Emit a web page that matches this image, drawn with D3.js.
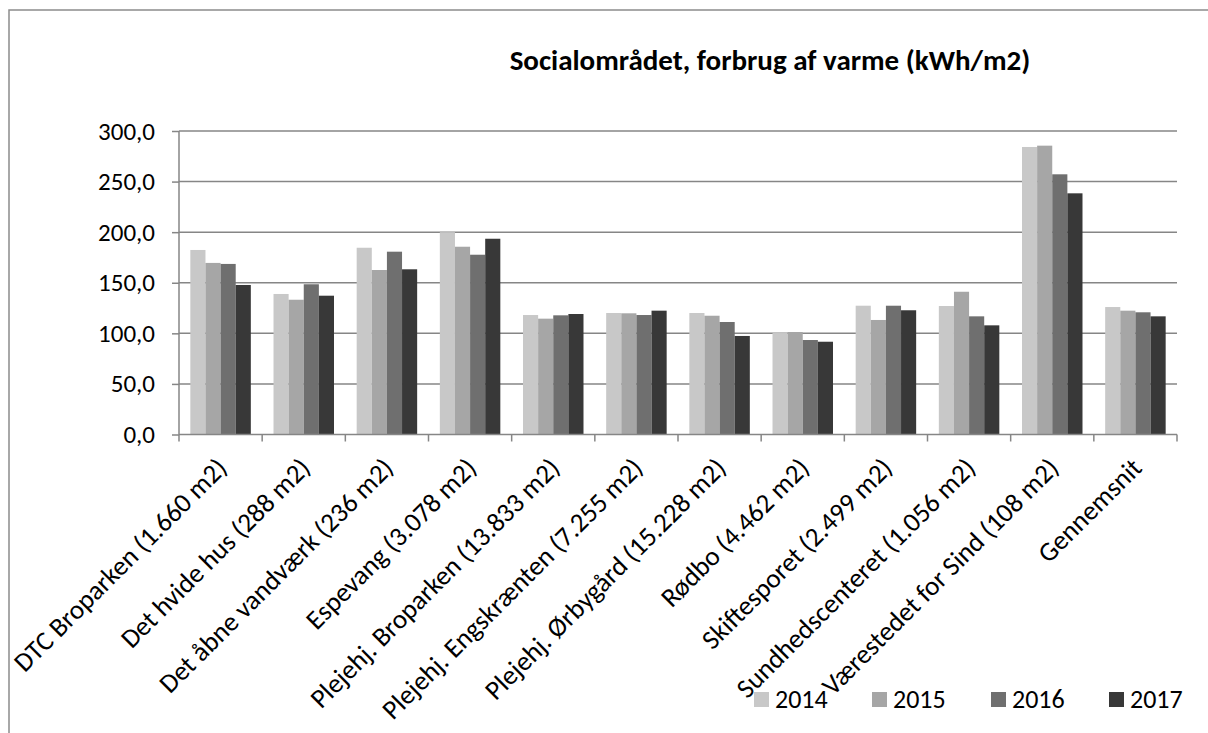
<!DOCTYPE html>
<html><head><meta charset="utf-8">
<script src="https://cdn.jsdelivr.net/npm/d3@7"></script>
<style>
html,body{margin:0;padding:0;background:#fff;}
svg{display:block;}
text{font-family:Carlito,Lato,"Liberation Sans",sans-serif;fill:#000;}
</style></head>
<body>
<svg id="chart" width="1208" height="733"></svg>
<script>
const categories = [
  "DTC Broparken (1.660 m2)",
  "Det hvide hus (288 m2)",
  "Det åbne vandværk (236 m2)",
  "Espevang (3.078 m2)",
  "Plejehj. Broparken (13.833 m2)",
  "Plejehj. Engskrænten (7.255 m2)",
  "Plejehj. Ørbygård (15.228 m2)",
  "Rødbo (4.462 m2)",
  "Skiftesporet (2.499 m2)",
  "Sundhedscenteret (1.056 m2)",
  "Værestedet for Sind (108 m2)",
  "Gennemsnit"
];
const years = ["2014", "2015", "2016", "2017"];
const values2014 = [182.4, 138.9, 184.6, 200.0, 118.1, 120.1, 120.1, 100.3, 127.3, 127.0, 284.2, 126.0];
const values2015 = [169.6, 133.2, 162.6, 185.6, 114.5, 119.8, 117.4, 101.3, 113.2, 141.1, 285.5, 122.4];
const values2016 = [168.6, 148.5, 180.7, 177.7, 117.8, 118.1, 111.2, 93.4, 127.3, 116.8, 257.2, 120.8];
const values2017 = [147.8, 137.2, 163.3, 193.5, 119.1, 122.4, 97.4, 91.7, 122.8, 107.9, 238.4, 116.8];
const yTicks = [0, 50, 100, 150, 200, 250, 300];
const colors = ["#c8c8c8", "#a6a6a6", "#6f6f6f", "#383838"];
const title = "Socialområdet, forbrug af varme (kWh/m2)";

const series = [values2014, values2015, values2016, values2017];

const svg = d3.select("#chart");
const gridColor = "#868686";

// outer chart border
svg.append("rect").attr("x", 9).attr("y", 10).attr("width", 1400).attr("height", 900)
  .attr("fill", "none").attr("stroke", "#8c8c8c").attr("stroke-width", 1.5);

const plot = {left: 179, right: 1177, top: 131, bottom: 434.5};

const x0 = d3.scaleBand().domain(categories).range([plot.left, plot.right]).paddingInner(0).paddingOuter(0);
const gapRatio = 1.5;
const barW = x0.bandwidth() / (years.length + gapRatio);
const x1 = d3.scaleBand().domain(years).range([barW * gapRatio / 2, barW * gapRatio / 2 + barW * years.length]).padding(0);
const y = d3.scaleLinear().domain([0, 300]).range([plot.bottom, plot.top]);

// gridlines
svg.append("g").selectAll("line").data(yTicks.filter(d => d > 0)).join("line")
  .attr("x1", plot.left).attr("x2", plot.right)
  .attr("y1", d => y(d)).attr("y2", d => y(d))
  .attr("stroke", gridColor).attr("stroke-width", 1.5);

// bars
const groups = svg.append("g").selectAll("g").data(categories).join("g")
  .attr("transform", d => `translate(${x0(d)},0)`);
groups.selectAll("rect").data((d, i) => years.map((yr, k) => ({yr, k, v: series[k][i]}))).join("rect")
  .attr("x", d => x1(d.yr))
  .attr("width", x1.bandwidth())
  .attr("y", d => y(d.v))
  .attr("height", d => y(0) - y(d.v))
  .attr("fill", d => colors[d.k]);

// y axis
const yAxis = d3.axisLeft(y).tickValues(yTicks).tickSize(7).tickPadding(17)
  .tickFormat(d => d3.format(".1f")(d).replace(".", ","));
const gy = svg.append("g").attr("transform", `translate(${plot.left},0)`).call(yAxis);
gy.select(".domain").attr("stroke", gridColor).attr("stroke-width", 1.5).attr("d", `M0,${plot.top}V${plot.bottom}`);
gy.selectAll(".tick line").attr("stroke", gridColor).attr("stroke-width", 1.5);
gy.selectAll(".tick text").attr("font-size", 25).attr("font-family", "Carlito,Lato,sans-serif").attr("fill", "#000");

// x axis line + ticks at category boundaries
svg.append("line").attr("x1", plot.left).attr("x2", plot.right)
  .attr("y1", plot.bottom).attr("y2", plot.bottom)
  .attr("stroke", gridColor).attr("stroke-width", 1.5);
const boundaries = categories.map(c => x0(c)).concat([plot.right]);
svg.append("g").selectAll("line").data(boundaries).join("line")
  .attr("x1", d => d).attr("x2", d => d)
  .attr("y1", plot.bottom).attr("y2", plot.bottom + 7)
  .attr("stroke", gridColor).attr("stroke-width", 1.5);

// x labels rotated
svg.append("g").selectAll("text").data(categories).join("text")
  .attr("transform", d => `translate(${x0(d) + x0.bandwidth() / 2 + 8},${plot.bottom + 35}) rotate(-45)`)
  .attr("text-anchor", "end")
  .attr("font-size", 27)
  .text(d => d);

// title
svg.append("text").attr("x", 770).attr("y", 70).attr("text-anchor", "middle")
  .attr("font-size", 29).attr("font-weight", "bold").text(title);

// legend
const legendX = [754, 872, 991, 1109];
const lg = svg.append("g").selectAll("g").data(years).join("g")
  .attr("transform", (d, i) => `translate(${legendX[i]},692)`);
lg.append("rect").attr("width", 15).attr("height", 15).attr("fill", (d, i) => colors[i]);
lg.append("text").attr("x", 21).attr("y", 16).attr("font-size", 26).text(d => d);
</script>
</body></html>
